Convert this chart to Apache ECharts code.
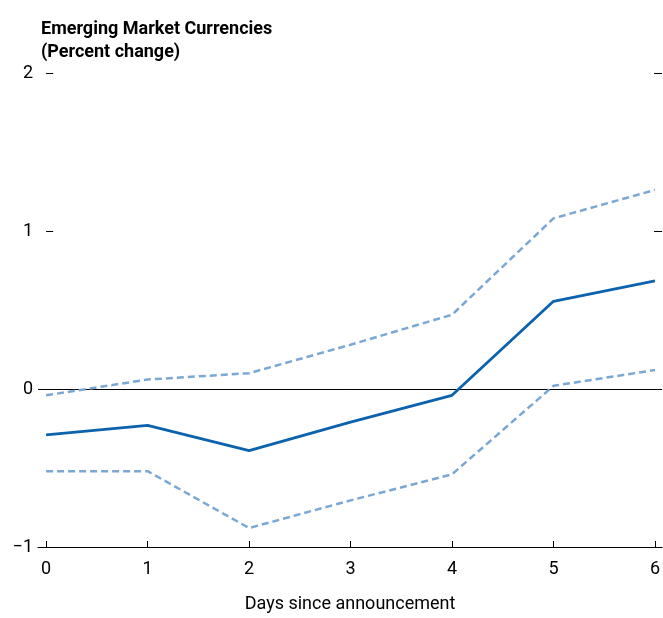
<!DOCTYPE html>
<html>
<head>
<meta charset="utf-8">
<script src="https://cdn.jsdelivr.net/npm/echarts@6/dist/echarts.min.js"></script>
<style>
  html, body { margin: 0; padding: 0; background: #fff; }
  #chart { width: 663px; height: 618px; }
</style>
</head>
<body>
<div id="chart"></div>
<script>
const days = [0, 1, 2, 3, 4, 5, 6];
const estimate = [-0.29, -0.23, -0.39, -0.21, -0.04, 0.555, 0.685];
const upperBand = [-0.04, 0.06, 0.10, 0.28, 0.47, 1.08, 1.26];
const lowerBand = [-0.52, -0.52, -0.88, -0.705, -0.54, 0.02, 0.12];
const yTicks = [-1, 0, 1, 2];

const font = 'Roboto, "Liberation Sans", sans-serif';
const pairs = (ys) => days.map((d, i) => [d, ys[i]]);

const chart = echarts.init(document.getElementById('chart'));

const option = {
    backgroundColor: '#fff',
    animation: false,
    textStyle: { fontFamily: font },
    title: {
        text: 'Emerging Market Currencies\n(Percent change)',
        left: 36,
        top: 13,
        textStyle: {
            fontFamily: font,
            fontSize: 18,
            fontWeight: 'bold',
            color: '#000',
            lineHeight: 23
        }
    },
    grid: { left: 38, right: 0, top: 73, bottom: 64 },
    xAxis: {
        type: 'value',
        min: -0.08,
        max: 6.07,
        name: 'Days since announcement',
        nameLocation: 'middle',
        nameGap: 48,
        nameTextStyle: { fontFamily: font, fontSize: 18, color: '#000' },
        axisLine: { show: true, onZero: false, lineStyle: { color: '#000', width: 1 } },
        axisTick: { show: true, inside: true, length: 6, customValues: days, lineStyle: { color: '#000' } },
        axisLabel: { customValues: days, margin: 13, fontFamily: font, fontSize: 18, color: '#000' },
        splitLine: { show: false }
    },
    yAxis: [{
        type: 'value',
        min: -1,
        max: 2,
        interval: 1,
        axisLine: { show: false },
        axisTick: { show: true, inside: true, length: 7, lineStyle: { color: '#000' } },
        axisLabel: {
            margin: 5,
            fontFamily: font,
            fontSize: 18,
            color: '#000',
            formatter: (v) => (v < 0 ? '\u2212' + Math.abs(v) : String(v))
        },
        splitLine: { show: false }
    }, {
        type: 'value',
        position: 'right',
        min: -1,
        max: 2,
        interval: 1,
        axisLine: { show: false },
        axisTick: { show: true, inside: true, length: 8, lineStyle: { color: '#000' } },
        axisLabel: { show: false },
        splitLine: { show: false }
    }],
    series: [{
        name: 'Upper',
        type: 'line',
        data: pairs(upperBand),
        symbol: 'none',
        lineStyle: { color: '#7ba7d5', width: 2.5, type: [7, 4] },
        z: 3
    }, {
        name: 'Lower',
        type: 'line',
        data: pairs(lowerBand),
        symbol: 'none',
        lineStyle: { color: '#7ba7d5', width: 2.5, type: [7, 4] },
        z: 3
    }, {
        name: 'Estimate',
        type: 'line',
        data: pairs(estimate),
        symbol: 'none',
        lineStyle: { color: '#0b62ad', width: 2.8 },
        z: 4,
        markLine: {
            silent: true,
            symbol: 'none',
            label: { show: false },
            lineStyle: { color: '#000', width: 1, type: 'solid' },
            data: [{ yAxis: 0 }],
            z: 2
        }
    }]
};

chart.setOption(option);

window.addEventListener('resize', () => {
    chart.resize();
});
</script>
</body>
</html>
